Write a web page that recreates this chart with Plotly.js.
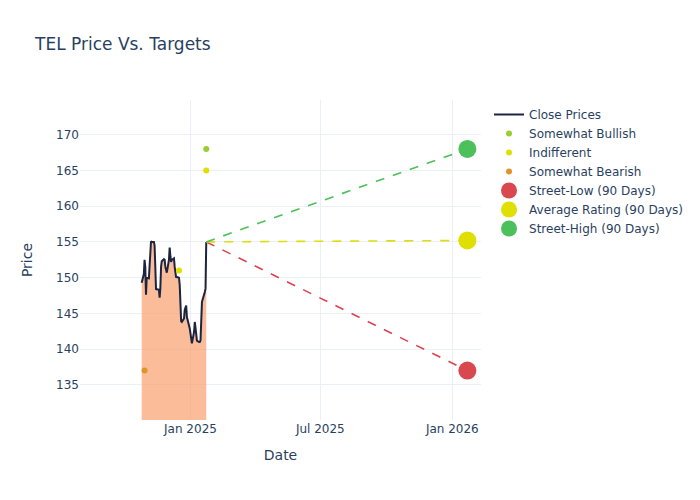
<!DOCTYPE html>
<html>
<head>
<meta charset="utf-8">
<script src="https://cdn.plot.ly/plotly-3.0.1.min.js"></script>
<style>html,body{margin:0;padding:0;background:#fff;}#chart{width:700px;height:500px;}</style>
</head>
<body>
<div id="chart"></div>
<script>
const closeDates = [
  "2024-10-25","2024-10-28","2024-10-29","2024-10-30","2024-10-31",
  "2024-11-01","2024-11-04","2024-11-05","2024-11-06","2024-11-07","2024-11-08",
  "2024-11-11","2024-11-12","2024-11-13","2024-11-14","2024-11-15",
  "2024-11-18","2024-11-19","2024-11-20","2024-11-21","2024-11-22",
  "2024-11-25","2024-11-26","2024-11-27","2024-11-29",
  "2024-12-02","2024-12-03","2024-12-04","2024-12-05","2024-12-06",
  "2024-12-09","2024-12-10","2024-12-11","2024-12-12","2024-12-13",
  "2024-12-16","2024-12-17","2024-12-18","2024-12-19","2024-12-20",
  "2024-12-23","2024-12-24","2024-12-26","2024-12-27","2024-12-30","2024-12-31",
  "2025-01-02","2025-01-03","2025-01-06","2025-01-07","2025-01-08","2025-01-10",
  "2025-01-13","2025-01-14","2025-01-15","2025-01-16","2025-01-17",
  "2025-01-21","2025-01-22","2025-01-23"
];
const closePrices = [
  149.3, 150.5, 152.5, 151.5, 147.6,
  150.0, 149.9, 152.0, 155.0, 155.1, 155.0,
  155.0, 154.5, 151.0, 148.3, 148.4,
  148.3, 147.2, 148.5, 151.5, 152.3,
  152.6, 152.5, 151.5, 150.7,
  152.5, 154.2, 153.0, 152.2, 152.5,
  152.7, 151.5, 150.5, 150.0, 150.1,
  150.0, 149.0, 146.0, 143.9, 143.8,
  144.3, 145.5, 146.1, 144.5, 143.5, 142.9,
  141.5, 140.8, 142.4, 143.8, 143.0, 141.2,
  141.0, 141.0, 141.2, 143.8, 146.6,
  148.0, 148.5, 155.0
];

const bullishDates = ["2025-01-23"];
const bullishPrices = [168];
const indifferentDates = ["2024-12-16", "2025-01-23"];
const indifferentPrices = [151, 165];
const bearishDates = ["2024-10-29"];
const bearishPrices = [137];

const targetStart = "2025-01-23";
const targetEnd = "2026-01-22";
const lastClose = 155.0;
const streetLow = 137;
const avgRating = 155.2;
const streetHigh = 168;

const xRange = ["2024-07-31", "2026-02-10"];
const yRange = [130.09, 174.85];

const traces = [
  {
    x: closeDates, y: closePrices, type: "scatter", mode: "lines",
    showlegend: false, hoverinfo: "skip", fill: "tozeroy",
    fillcolor: "rgba(248,160,110,0.7)", line: {width: 0, color: "rgba(0,0,0,0)"}
  },
  {
    x: closeDates, y: closePrices, type: "scatter", mode: "lines",
    name: "Close Prices", line: {color: "#1c2440", width: 2}
  },
  {
    x: bullishDates, y: bullishPrices, type: "scatter", mode: "markers",
    name: "Somewhat Bullish", marker: {color: "#9ACD32", size: 6}
  },
  {
    x: indifferentDates, y: indifferentPrices, type: "scatter", mode: "markers",
    name: "Indifferent", marker: {color: "#E0E000", size: 6}
  },
  {
    x: bearishDates, y: bearishPrices, type: "scatter", mode: "markers",
    name: "Somewhat Bearish", marker: {color: "#E0952A", size: 6}
  },
  {
    x: [targetStart, targetEnd], y: [lastClose, streetLow], type: "scatter", mode: "lines",
    showlegend: false, hoverinfo: "skip", line: {color: "#D9454F", width: 1.6, dash: "dash"}
  },
  {
    x: [targetStart, targetEnd], y: [lastClose, avgRating], type: "scatter", mode: "lines",
    showlegend: false, hoverinfo: "skip", line: {color: "#DDDD10", width: 1.6, dash: "dash"}
  },
  {
    x: [targetStart, targetEnd], y: [lastClose, streetHigh], type: "scatter", mode: "lines",
    showlegend: false, hoverinfo: "skip", line: {color: "#4CC05A", width: 1.6, dash: "dash"}
  },
  {
    x: [targetEnd], y: [streetLow], type: "scatter", mode: "markers",
    name: "Street-Low (90 Days)", marker: {color: "#D9474F", size: 18}
  },
  {
    x: [targetEnd], y: [avgRating], type: "scatter", mode: "markers",
    name: "Average Rating (90 Days)", marker: {color: "#DFDF00", size: 18}
  },
  {
    x: [targetEnd], y: [streetHigh], type: "scatter", mode: "markers",
    name: "Street-High (90 Days)", marker: {color: "#4CC05A", size: 18}
  }
];

const layout = {
  width: 700, height: 500,
  paper_bgcolor: "#ffffff", plot_bgcolor: "#ffffff",
  font: {family: "DejaVu Sans, sans-serif", color: "#2a3f5f", size: 12},
  title: {text: "TEL Price Vs. Targets", x: 0.05, font: {size: 17, color: "#2a3f5f"}},
  margin: {l: 80, r: 80, t: 100, b: 80},
  xaxis: {
    title: {text: "Date", font: {size: 14}, standoff: 15},
    type: "date", range: xRange, automargin: true,
    gridcolor: "#EBF0F8", zeroline: false, showline: false,
    tickvals: ["2025-01-01", "2025-07-01", "2026-01-01"],
    ticktext: ["Jan 2025", "Jul 2025", "Jan 2026"]
  },
  yaxis: {
    title: {text: "Price", font: {size: 14}, standoff: 20},
    range: yRange, dtick: 5, tick0: 0, automargin: true,
    gridcolor: "#EBF0F8", zeroline: false, showline: false
  },
  legend: {font: {size: 12}, bgcolor: "rgba(255,255,255,0)"},
  showlegend: true
};

Plotly.newPlot("chart", traces, layout, {displayModeBar: false});
</script>
</body>
</html>
